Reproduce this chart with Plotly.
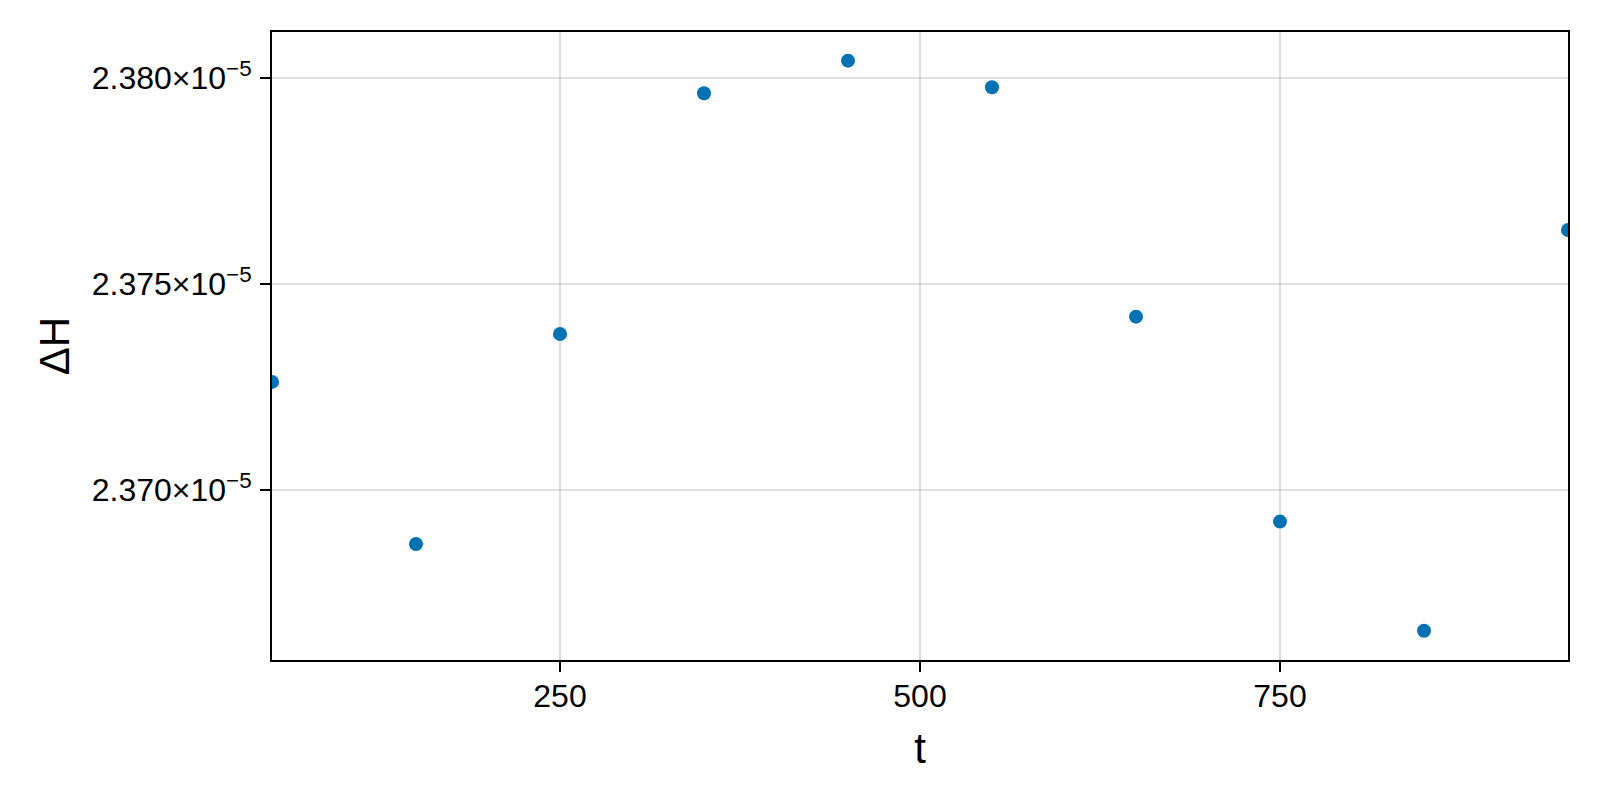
import plotly.graph_objects as go

# data
t = [50, 150, 250, 350, 450, 550, 650, 750, 850, 950]
dH = [2.372624e-5, 2.368688e-5, 2.373787e-5, 2.379629e-5, 2.380421e-5,
      2.379777e-5, 2.374208e-5, 2.369233e-5, 2.366584e-5, 2.376312e-5]

x_ticks = [250, 500, 750]
y_ticks = [2.370e-5, 2.375e-5, 2.380e-5]
y_tick_labels = ["2.370×10<sup>−5</sup>", "2.375×10<sup>−5</sup>", "2.380×10<sup>−5</sup>"]

fig = go.Figure()

fig.add_trace(
    go.Scatter(
        x=t,
        y=dH,
        mode="markers",
        marker=dict(color="#0072B2", size=14),
        showlegend=False
    )
)

fig.update_layout(
    width=1600,
    height=800,
    paper_bgcolor="white",
    plot_bgcolor="white",
    font=dict(family="Liberation Sans, Arial, sans-serif", color="black", size=32),
    margin=dict(l=272, r=32, t=32, b=140)
)

axis_style = dict(
    ticks="outside",
    ticklen=10,
    tickwidth=2,
    tickcolor="black",
    tickfont=dict(size=32),
    showgrid=True,
    gridcolor="rgba(0,0,0,0.12)",
    gridwidth=2,
    zeroline=False,
    showline=True,
    linecolor="black",
    linewidth=2,
    mirror=True
)

fig.update_xaxes(
    range=[50, 950],
    tickvals=x_ticks,
    ticklabelstandoff=-3,
    title=dict(text="t", font=dict(size=42), standoff=20),
    **axis_style
)

fig.update_yaxes(
    range=[2.365874e-5, 2.381117e-5],
    tickvals=y_ticks,
    ticktext=y_tick_labels,
    ticklabelstandoff=2,
    title=dict(text="ΔH", font=dict(size=42), standoff=9),
    **axis_style
)

fig.write_html(
    "out.html",
    config={"displayModeBar": False},
    post_script="document.body.style.margin='0';document.body.style.overflow='hidden';"
)
